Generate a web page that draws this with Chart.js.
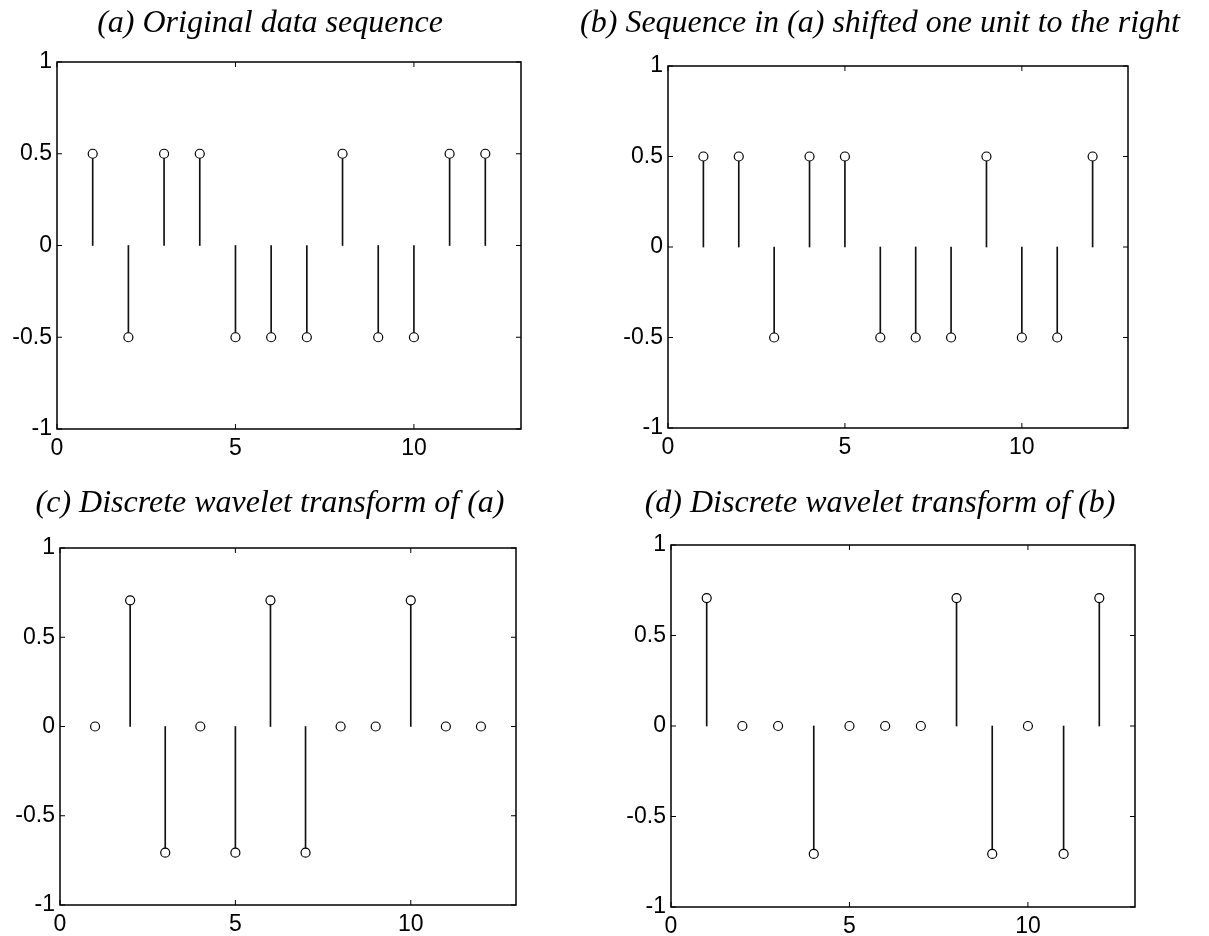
<!DOCTYPE html>
<html>
<head>
<meta charset="utf-8">
<script src="https://cdn.jsdelivr.net/npm/chart.js@4.4.1/dist/chart.umd.min.js"></script>
<style>
  html, body { margin: 0; padding: 0; background: #fff; }
  body { width: 1209px; height: 936px; overflow: hidden; position: relative; }
  .panel { position: absolute; }
</style>
</head>
<body>
<script>
// Data
const samples = [1, 2, 3, 4, 5, 6, 7, 8, 9, 10, 11, 12];
const original = [0.5, -0.5, 0.5, 0.5, -0.5, -0.5, -0.5, 0.5, -0.5, -0.5, 0.5, 0.5];
const shifted = [0.5, 0.5, -0.5, 0.5, 0.5, -0.5, -0.5, -0.5, 0.5, -0.5, -0.5, 0.5];
const dwtOriginal = [0, 0.707, -0.707, 0, -0.707, 0.707, -0.707, 0, 0, 0.707, 0, 0];
const dwtShifted = [0.707, 0, 0, -0.707, 0, 0, 0, 0.707, -0.707, 0, -0.707, 0.707];
const xTicks = [0, 5, 10];
const yTicks = [-1, -0.5, 0, 0.5, 1];
const titles = [
    '(a) Original data sequence',
    '(b) Sequence in (a) shifted one unit to the right',
    '(c) Discrete wavelet transform of (a)',
    '(d) Discrete wavelet transform of (b)'
];

// Layout: plot area [left, top, right, bottom] and title centre
const panels = [
    { values: original, title: titles[0], area: [57, 62, 521, 429], titleX: 270, titleY: 23 },
    { values: shifted, title: titles[1], area: [668, 66, 1128, 428], titleX: 880, titleY: 23 },
    { values: dwtOriginal, title: titles[2], area: [60, 548, 516, 905], titleX: 270, titleY: 503 },
    { values: dwtShifted, title: titles[3], area: [671, 545, 1135, 907], titleX: 880, titleY: 503 }
];

const TITLE_SIZE = 32;
const Y_AXIS_W = 100;
const X_AXIS_H = 40;
const tickFont = { family: 'Liberation Sans', size: 23 };

// box around the plot with inward ticks, matlab style
const frame = {
    id: 'frame',
    afterDraw(chart) {
        const { ctx, chartArea: a, scales } = chart;
        ctx.save();
        ctx.strokeStyle = '#000';
        ctx.lineWidth = 1.5;
        ctx.strokeRect(a.left, a.top, a.right - a.left, a.bottom - a.top);
        ctx.lineWidth = 1;
        ctx.beginPath();
        scales.x.ticks.forEach(t => {
            const x = scales.x.getPixelForValue(t.value);
            ctx.moveTo(x, a.bottom);
            ctx.lineTo(x, a.bottom - 5);
            ctx.moveTo(x, a.top);
            ctx.lineTo(x, a.top + 5);
        });
        scales.y.ticks.forEach(t => {
            const y = scales.y.getPixelForValue(t.value);
            ctx.moveTo(a.left, y);
            ctx.lineTo(a.left + 5, y);
            ctx.moveTo(a.right, y);
            ctx.lineTo(a.right - 5, y);
        });
        ctx.stroke();
        ctx.restore();
    }
};

panels.forEach(p => {
    const [l, t, r, b] = p.area;
    const left = l - Y_AXIS_W;
    const width = 2 * (p.titleX - left);
    const extra = left + width - r;
    const top = Math.max(0, Math.round(p.titleY - 0.6 * TITLE_SIZE - 4));
    const height = b + X_AXIS_H - top;
    const titleBottom = t - top - 4 - 1.2 * TITLE_SIZE;

    const box = document.createElement('div');
    box.className = 'panel';
    box.style.left = left + 'px';
    box.style.top = top + 'px';
    const canvas = document.createElement('canvas');
    canvas.width = width;
    canvas.height = height;
    box.appendChild(canvas);
    document.body.appendChild(box);

    const points = samples.map((x, i) => ({ x: x, y: p.values[i] }));

    new Chart(canvas, {
        type: 'bar',
        data: {
            datasets: [{
                type: 'scatter',
                data: points,
                pointStyle: 'circle',
                pointRadius: 4.5,
                pointBackgroundColor: '#fff',
                pointBorderColor: '#000',
                pointBorderWidth: 1.2,
                order: 0
            }, {
                type: 'bar',
                data: points,
                backgroundColor: '#111',
                barThickness: 1,
                order: 1
            }]
        },
        options: {
            responsive: false,
            animation: false,
            layout: { padding: 0 },
            plugins: {
                legend: { display: false },
                tooltip: { enabled: false },
                title: {
                    display: true,
                    text: p.title,
                    color: '#000',
                    font: { family: 'Liberation Serif', style: 'italic', weight: 'normal', size: TITLE_SIZE },
                    padding: { top: 4, bottom: titleBottom }
                }
            },
            scales: {
                x: {
                    type: 'linear',
                    min: 0,
                    max: 13,
                    offset: false,
                    afterBuildTicks: s => { s.ticks = xTicks.map(v => ({ value: v })); },
                    afterFit: s => { s.height = X_AXIS_H; },
                    grid: { display: false, drawTicks: false, offset: false },
                    border: { display: false },
                    ticks: { color: '#000', font: tickFont, padding: 6, maxRotation: 0, callback: v => String(v) }
                },
                y: {
                    min: -1,
                    max: 1,
                    afterBuildTicks: s => { s.ticks = yTicks.map(v => ({ value: v })); },
                    afterFit: s => { s.width = Y_AXIS_W; },
                    grid: { display: false, drawTicks: false },
                    border: { display: false },
                    ticks: { color: '#000', font: tickFont, padding: 5, callback: v => String(v) }
                },
                yR: {
                    position: 'right',
                    grid: { display: false, drawTicks: false },
                    border: { display: false },
                    ticks: { display: false },
                    afterFit: s => { s.width = extra; }
                }
            }
        },
        plugins: [frame]
    });
});
</script>
</body>
</html>
